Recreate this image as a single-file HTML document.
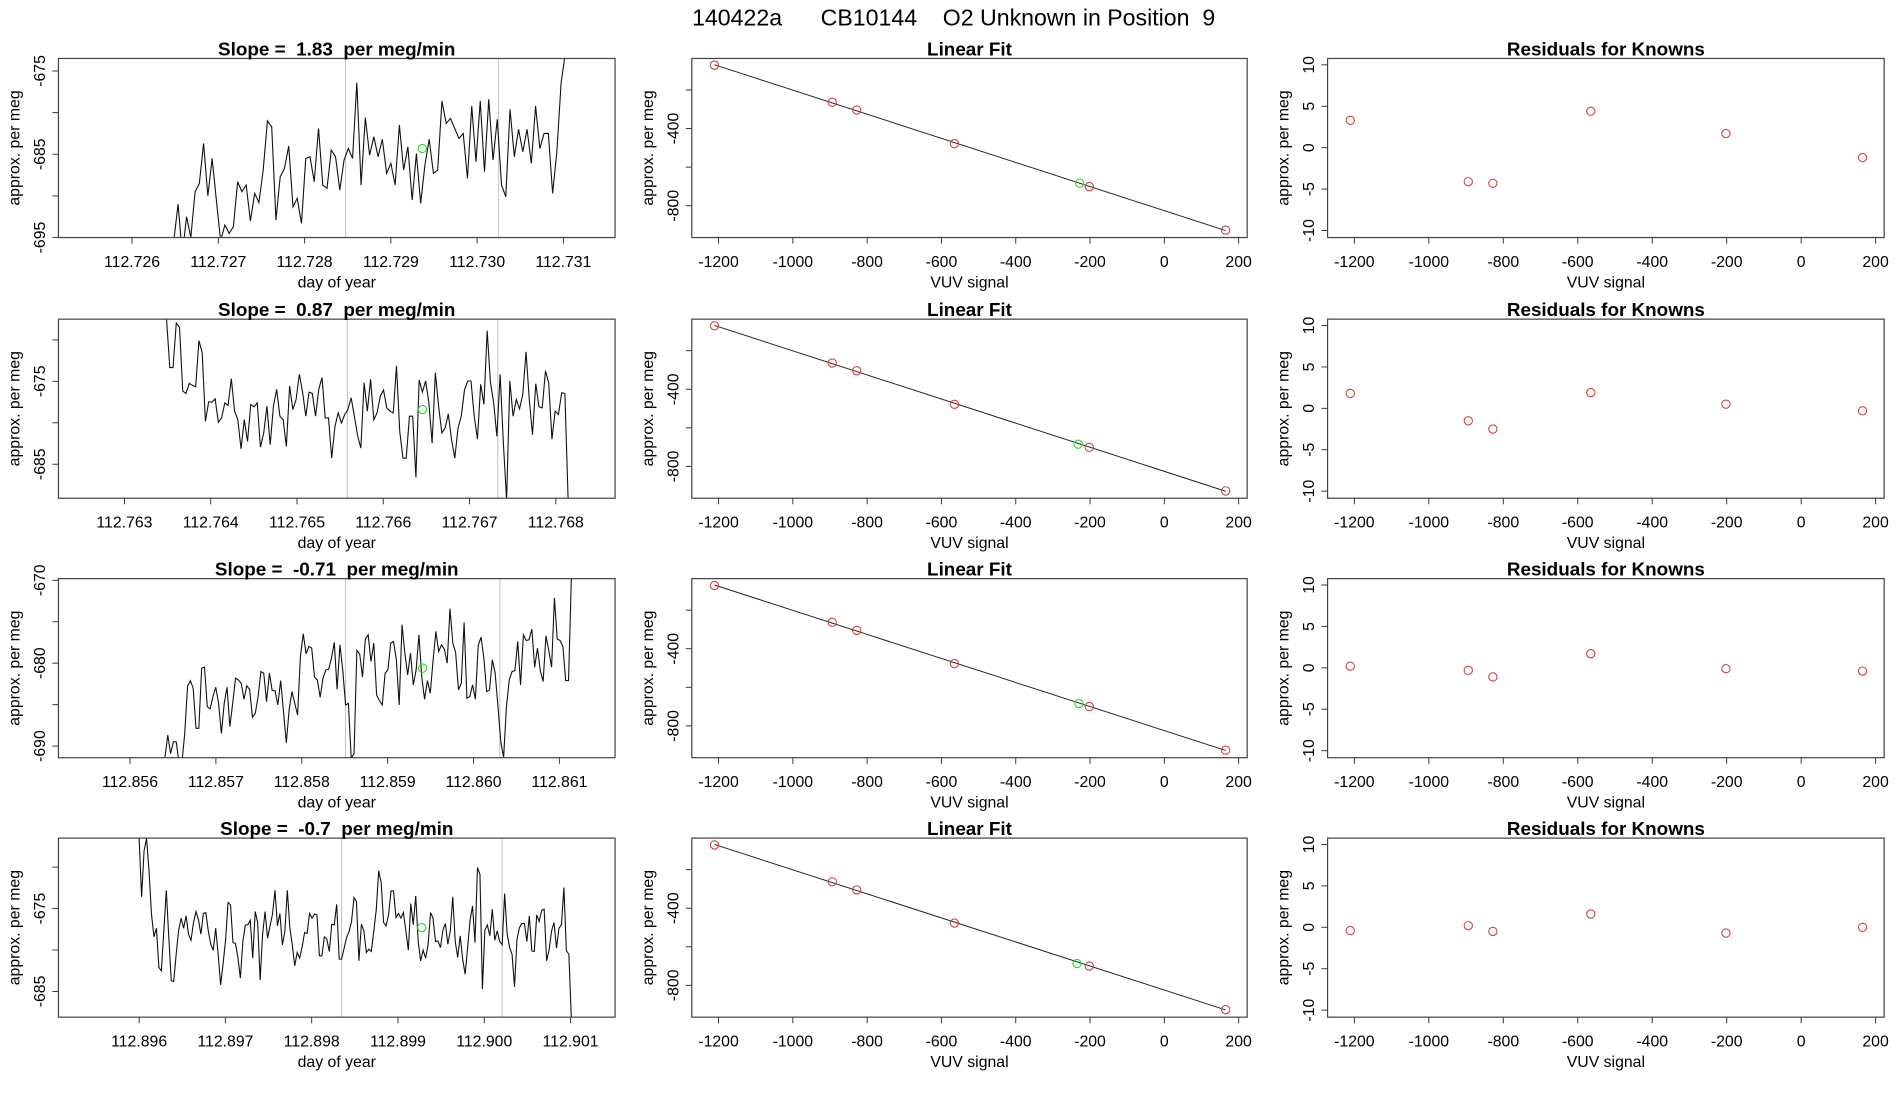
<!DOCTYPE html>
<html><head><meta charset="utf-8"><title>140422a CB10144 O2 Unknown in Position 9</title>
<style>
html,body{margin:0;padding:0;background:#fff;}
svg{display:block;font-family:"Liberation Sans",Arial,sans-serif;}
svg text{white-space:pre;}
</style></head>
<body>
<svg id="chart" xmlns="http://www.w3.org/2000/svg" width="1900" height="1100" viewBox="0 0 1560 903" preserveAspectRatio="none">
<rect x="0" y="0" width="1560" height="903" fill="#fff"/>
<text x="783" y="21" font-size="19" text-anchor="middle" fill="#000" xml:space="preserve">140422a      CB10144    O2 Unknown in Position  9</text>
</svg>
<script>
// ---------- Data: time series panels (column 1) ----------
const slopeTitles = ["Slope =  1.83  per meg/min","Slope =  0.87  per meg/min","Slope =  -0.71  per meg/min","Slope =  -0.7  per meg/min"];
const tsXDomain1 = [112.725147, 112.731599];
const tsXDomain2 = [112.762235, 112.768687];
const tsXDomain3 = [112.855167, 112.861648];
const tsXDomain4 = [112.895065, 112.901516];
const tsYDomain1 = [-695.0, -673.5];
const tsYDomain2 = [-689.1, -667.5];
const tsYDomain3 = [-691.4, -669.8];
const tsYDomain4 = [-688.1, -666.5];
const tsXTicks1 = ["112.726","112.727","112.728","112.729","112.730","112.731"];
const tsXTicks2 = ["112.763","112.764","112.765","112.766","112.767","112.768"];
const tsXTicks3 = ["112.856","112.857","112.858","112.859","112.860","112.861"];
const tsXTicks4 = ["112.896","112.897","112.898","112.899","112.900","112.901"];
const tsYTicks1 = [-695,-690,-685,-680,-675];
const tsYTicks2 = [-685,-680,-675,-670];
const tsYTicks3 = [-690,-685,-680,-675,-670];
const tsYTicks4 = [-685,-680,-675,-670];
const tsYLabels1 = [-695,-685,-675];
const tsYLabels2 = [-685,-675];
const tsYLabels3 = [-690,-680,-670];
const tsYLabels4 = [-685,-675];
const tsTimeRange1 = [112.726484, 112.731023];
const tsTimeRange2 = [112.763488, 112.768143];
const tsTimeRange3 = [112.856407, 112.861139];
const tsTimeRange4 = [112.896000, 112.901009];
const tsMarkers1 = [112.728475, 112.730249];
const tsMarkers2 = [112.765585, 112.767327];
const tsMarkers3 = [112.858509, 112.860306];
const tsMarkers4 = [112.898346, 112.900207];
const tsGreen1 = [112.729364, -684.3];
const tsGreen2 = [112.766456, -678.4];
const tsGreen3 = [112.859407, -680.6];
const tsGreen4 = [112.899276, -677.3];
const tsValues1 = [-695.4,-691,-697,-692.5,-695,-689.5,-688.5,-683.7,-690,-685.5,-690.5,-695.4,-693.5,-694.5,-693.7,-688.3,-689.5,-688.7,-693,-689.7,-690.8,-686.9,-681,-681.7,-692.9,-687.7,-686.7,-684,-691.3,-690.3,-693.3,-685.5,-685.3,-688.3,-681.9,-688.7,-689.1,-684.5,-685.3,-689.3,-685.7,-684.3,-685.5,-676.4,-688.7,-680.6,-685.1,-682.9,-685.3,-683.2,-687.3,-686.1,-688.7,-681.5,-686.9,-684.1,-690.5,-684.9,-690.9,-686.3,-683.2,-687.3,-686.9,-678.6,-681.3,-680.7,-681.9,-683.1,-682.5,-687.9,-679.2,-685.9,-678.6,-687.1,-678.4,-685.7,-680.8,-688.7,-690.1,-679.6,-685.3,-682,-684.7,-682,-686.1,-679.2,-684.3,-682.5,-682.5,-689.7,-684.7,-676.4,-672.8];
const tsValues2 = [-667.55,-673.34,-673.34,-667.96,-668.48,-676.17,-676.46,-675.24,-675.49,-675.65,-670.1,-671.52,-679.82,-677.47,-677.51,-677.11,-679.94,-679.41,-677.59,-677.91,-674.68,-678.6,-679.62,-683.14,-679.62,-682.25,-677.79,-678.08,-677.59,-682.94,-681.23,-678,-682.65,-678,-675.97,-679.21,-679.62,-682.85,-675.57,-678.4,-677.19,-674.15,-676.3,-679.21,-676.3,-676.46,-679.21,-675.97,-674.55,-679.41,-679.41,-684.27,-680.43,-678.81,-680.02,-679.01,-678.4,-676.98,-679.21,-681.56,-683.06,-675.16,-678.6,-674.76,-679.62,-678.81,-676.78,-676.05,-678.2,-678.6,-678.81,-673.14,-681.03,-684.27,-684.27,-679.21,-679.21,-686.58,-674.84,-676.3,-674.96,-677.59,-682.45,-673.95,-678,-681.23,-680.63,-678.93,-682.04,-684.27,-680.63,-679.21,-676.05,-674.96,-674.96,-679.21,-681.96,-675.36,-677.79,-668.89,-675.08,-677.59,-681.64,-674.15,-682.45,-689.33,-674.96,-679.21,-677.19,-678.32,-676.58,-671.44,-677.19,-681.44,-675.28,-678.08,-678.2,-673.74,-675.16,-681.96,-678.6,-679.01,-676.38,-676.46,-689.33];
const tsValues3 = [-691.37,-688.67,-690.89,-689.48,-689.48,-692.1,-692.1,-688.47,-682.82,-682.1,-683.02,-687.86,-687.86,-680.6,-680.48,-685.24,-685.52,-684.03,-682.9,-684.84,-688.47,-684.84,-682.9,-687.66,-684.84,-681.81,-682.02,-682.42,-684.35,-682.74,-683.15,-686.53,-686.05,-684.03,-681.01,-681.21,-684.64,-681.21,-683.31,-683.31,-685.04,-682.1,-685.85,-689.6,-685.65,-683.43,-684.84,-686.25,-679.19,-676.45,-678.87,-677.98,-678.19,-681.69,-682.02,-684.11,-681.81,-680.81,-680.73,-679.4,-677.5,-683.15,-677.78,-680.81,-685.04,-684.84,-691.49,-690.89,-678.47,-678.87,-681.69,-677.1,-676.57,-679.8,-677.58,-683.83,-684.52,-685.04,-681.21,-680.81,-677.58,-677.38,-679.6,-685.04,-675.36,-678.79,-681.41,-678.79,-682.62,-680.81,-676.57,-681.69,-684.35,-682.1,-683.63,-679.68,-676.17,-678.59,-677.78,-678.31,-680,-673.43,-677.58,-678.71,-683.23,-682.42,-675.08,-684.23,-684.03,-682.62,-684.35,-677.9,-676.85,-679.4,-683.43,-683.23,-679.6,-681.21,-685.24,-689.48,-691.37,-685.24,-682.02,-681.01,-680.89,-677.38,-682.62,-676.57,-677.26,-677.18,-675.89,-680.48,-678.19,-680.89,-682.22,-676.69,-678.47,-680.48,-672.14,-677.1,-677.26,-677.98,-682.1,-682.1,-669.8];
const tsValues4 = [-666.53,-673.59,-668.05,-666.53,-670.46,-675.68,-678.41,-677.37,-682.11,-682.51,-677.69,-672.79,-678.41,-683.71,-683.8,-680.5,-677.61,-676.16,-677.37,-675.88,-678.09,-678.82,-676.73,-675.36,-676.29,-678.09,-675.6,-675.48,-677.69,-679.3,-680.02,-677.37,-680.5,-684.2,-681.63,-678.82,-674.28,-674.56,-679.1,-679.22,-680.9,-683.39,-678.98,-676.97,-676.97,-676.41,-680.98,-675.36,-676.69,-683.63,-678.09,-675.36,-678.57,-677.09,-675.68,-672.79,-677.09,-675.6,-679.38,-677.77,-672.79,-677.21,-679.38,-681.91,-680.3,-680.98,-679.62,-677.89,-678.01,-675.6,-676.16,-675.68,-675.76,-680.7,-680.7,-678.41,-678.69,-680.18,-676.89,-676.97,-674.48,-681.1,-681.1,-679.78,-678.49,-677.77,-676.57,-673.67,-674.16,-681.31,-676.89,-677.69,-680.3,-679.9,-680.18,-677.77,-675.2,-670.46,-671.87,-676.69,-677.09,-675.76,-672.87,-672.87,-676.08,-675.6,-676.16,-675.48,-677.69,-680.02,-674.4,-676.97,-673.47,-678.98,-681.31,-680.02,-680.98,-679.38,-675.48,-676.16,-678.98,-678.9,-679.7,-677.61,-676.81,-679.3,-677.69,-673.59,-678.98,-680.9,-678.29,-681.1,-682.91,-679.78,-676.41,-674.68,-679.1,-670.06,-670.86,-684.72,-677.61,-676.97,-678.29,-675.08,-678.82,-677.69,-678.98,-679.38,-673.19,-678.01,-679.7,-680.5,-684.44,-678.69,-677.29,-676.81,-676.81,-678.98,-675.88,-680.1,-680.18,-675.76,-676.57,-675.2,-675.08,-681.31,-680.02,-677.69,-676.69,-679.78,-677.37,-676.97,-672.47,-680.1,-680.5,-688.13];

// ---------- Data: linear fit & residual panels (columns 2,3) ----------
const vuvXDomain = [-1272, 223];
const fitYDomain = [-965, -36.5];
const residYDomain = [-10.85, 10.77];
const vuvXTicks = [-1200,-1000,-800,-600,-400,-200,0,200];
const fitYTicks = [-800,-600,-400,-200];
const fitYLabels = [-800,-400];
const residYTicks = [-10,-5,0,5,10];
const knownX = [-1211,-894,-828,-565,-202,165];
const knownY1 = [-71,-264,-304,-478,-701,-927];
const knownY2 = [-71,-264,-304,-478,-701,-927];
const knownY3 = [-72,-263,-305,-477,-700,-926];
const knownY4 = [-72,-263,-305,-477,-700,-926];
const unknownX = [-228,-232,-230,-235];
const unknownY = [-683,-685,-684,-687];
const resid1 = [3.3,-4.1,-4.3,4.4,1.7,-1.2];
const resid2 = [1.8,-1.5,-2.5,1.9,0.5,-0.3];
const resid3 = [0.2,-0.3,-1.1,1.7,-0.1,-0.4];
const resid4 = [-0.4,0.2,-0.5,1.6,-0.7,0.0];

// ---------- Rendering ----------
const NS = "http://www.w3.org/2000/svg";
const svg = document.getElementById("chart");
const colX = [[48,505],[568,1024],[1090,1547]];
const rowTop = [48,262,475,688];
const boxH = 147;
function lin(d0,d1,r0,r1){return v => r0 + (v-d0)/(d1-d0)*(r1-r0);}
function mk(tag, attrs, parent){const e=document.createElementNS(NS,tag);for(const k in attrs)e.setAttribute(k,attrs[k]);(parent||svg).appendChild(e);return e;}
function txt(s, attrs, parent){const e=mk("text",attrs,parent);e.textContent=s;return e;}

const tsX=[tsXDomain1,tsXDomain2,tsXDomain3,tsXDomain4];
const tsY=[tsYDomain1,tsYDomain2,tsYDomain3,tsYDomain4];
const tsXT=[tsXTicks1,tsXTicks2,tsXTicks3,tsXTicks4];
const tsYT=[tsYTicks1,tsYTicks2,tsYTicks3,tsYTicks4];
const tsYL=[tsYLabels1,tsYLabels2,tsYLabels3,tsYLabels4];
const tsTR=[tsTimeRange1,tsTimeRange2,tsTimeRange3,tsTimeRange4];
const tsM=[tsMarkers1,tsMarkers2,tsMarkers3,tsMarkers4];
const tsG=[tsGreen1,tsGreen2,tsGreen3,tsGreen4];
const tsV=[tsValues1,tsValues2,tsValues3,tsValues4];
const kY=[knownY1,knownY2,knownY3,knownY4];
const rs=[resid1,resid2,resid3,resid4];

const defs = mk("defs",{});

function axesFrame(g, x0,x1,y0,y1, xs, ys, xTicks, xLabels, yTicks, yLabels, title, xlab, name){
  xTicks.forEach((v,i)=>{
    const px=xs(v);
    const tk=mk("line",{x1:px,x2:px,y1:y1,y2:y1+5,stroke:"#333","stroke-width":0.8},g);
    
    
    const tl=txt(xLabels[i],{x:px,y:y1+24,"font-size":13,"text-anchor":"middle",fill:"#000"},g);
    
    
  });
  yTicks.forEach(v=>{
    const py=ys(v);
    const tk=mk("line",{x1:x0-5,x2:x0,y1:py,y2:py,stroke:"#333","stroke-width":0.8},g);
    
    
  });
  yLabels.forEach(v=>{
    const py=ys(v);
    const tl=txt(String(v),{x:0,y:0,"font-size":13,"text-anchor":"middle",fill:"#000",transform:`translate(${x0-11},${py}) rotate(-90)`},g);
    
    
  });
  const box=mk("rect",{x:x0,y:y0,width:x1-x0,height:y1-y0,fill:"none",stroke:"#444","stroke-width":1},g);
  
  
  const t=txt(title,{x:(x0+x1)/2,y:y0-2.5,"font-size":15.5,"font-weight":"bold","text-anchor":"middle",fill:"#000"},g);
  
  
  const xl=txt(xlab,{x:(x0+x1)/2,y:y1+41,"font-size":13,"text-anchor":"middle",fill:"#000"},g);
  
  
  const yl=txt("approx. per meg",{x:0,y:0,"font-size":13,"text-anchor":"middle",fill:"#000",transform:`translate(${x0-32},${(y0+y1)/2}) rotate(-90)`},g);
  
  
}

for(let r=0;r<4;r++){
  const y0=rowTop[r], y1=y0+boxH;
  // ---- Column 1: time series ----
  {
    const [x0,x1]=colX[0];
    const g=mk("g",{});
    
    
    const xs=lin(tsX[r][0],tsX[r][1],x0,x1), ys=lin(tsY[r][0],tsY[r][1],y1,y0);
    const cp=mk("clipPath",{id:"clip-ts-"+r},defs);
    mk("rect",{x:x0,y:y0,width:x1-x0,height:y1-y0},cp);
    tsM[r].forEach(m=>{
      const l=mk("line",{x1:xs(m),x2:xs(m),y1:y0,y2:y1,stroke:"#c8c8c8","stroke-width":0.9},g);
      
      
    });
    const vals=tsV[r], n=vals.length, tr=tsTR[r];
    let d="";
    vals.forEach((v,i)=>{const t=tr[0]+(tr[1]-tr[0])*i/(n-1);d+=(i?"L":"M")+xs(t).toFixed(2)+","+ys(v).toFixed(2);});
    const p=mk("path",{d:d,fill:"none",stroke:"#111","stroke-width":0.9,"clip-path":"url(#clip-ts-"+r+")"},g);
    
    
    const gc=mk("circle",{cx:xs(tsG[r][0]),cy:ys(tsG[r][1]),r:3.4,fill:"none",stroke:"#22dd22","stroke-width":0.9},g);
    
    
    const xtv=tsXT[r].map(Number);
    axesFrame(g,x0,x1,y0,y1,xs,ys,xtv,tsXT[r],tsYT[r],tsYL[r],slopeTitles[r],"day of year","time-series");
  }
  // ---- Column 2: linear fit ----
  {
    const [x0,x1]=colX[1];
    const g=mk("g",{});
    
    
    const xs=lin(vuvXDomain[0],vuvXDomain[1],x0,x1), ys=lin(fitYDomain[0],fitYDomain[1],y1,y0);
    const ky=kY[r];
    const n=knownX.length; let sx=0,sy=0,sxx=0,sxy=0;
    for(let i=0;i<n;i++){sx+=knownX[i];sy+=ky[i];sxx+=knownX[i]*knownX[i];sxy+=knownX[i]*ky[i];}
    const b=(n*sxy-sx*sy)/(n*sxx-sx*sx), a=(sy-b*sx)/n;
    const xa=Math.min(...knownX), xb=Math.max(...knownX);
    const fl=mk("line",{x1:xs(xa),y1:ys(a+b*xa),x2:xs(xb),y2:ys(a+b*xb),stroke:"#222","stroke-width":0.8},g);
    
    
    knownX.forEach((x,i)=>{
      const c=mk("circle",{cx:xs(x),cy:ys(ky[i]),r:3.4,fill:"none",stroke:"#cc4444","stroke-width":0.9},g);
      
      
    });
    const u=mk("circle",{cx:xs(unknownX[r]),cy:ys(unknownY[r]),r:3.4,fill:"none",stroke:"#22dd22","stroke-width":0.9},g);
    
    
    axesFrame(g,x0,x1,y0,y1,xs,ys,vuvXTicks,vuvXTicks.map(String),fitYTicks,fitYLabels,"Linear Fit","VUV signal","linear-fit");
  }
  // ---- Column 3: residuals ----
  {
    const [x0,x1]=colX[2];
    const g=mk("g",{});
    
    
    const xs=lin(vuvXDomain[0],vuvXDomain[1],x0,x1), ys=lin(residYDomain[0],residYDomain[1],y1,y0);
    rs[r].forEach((v,i)=>{
      const c=mk("circle",{cx:xs(knownX[i]),cy:ys(v),r:3.4,fill:"none",stroke:"#cc4444","stroke-width":0.9},g);
      
      
    });
    axesFrame(g,x0,x1,y0,y1,xs,ys,vuvXTicks,vuvXTicks.map(String),residYTicks,residYTicks,"Residuals for Knowns","VUV signal","residuals");
  }
}
</script>
</body></html>
